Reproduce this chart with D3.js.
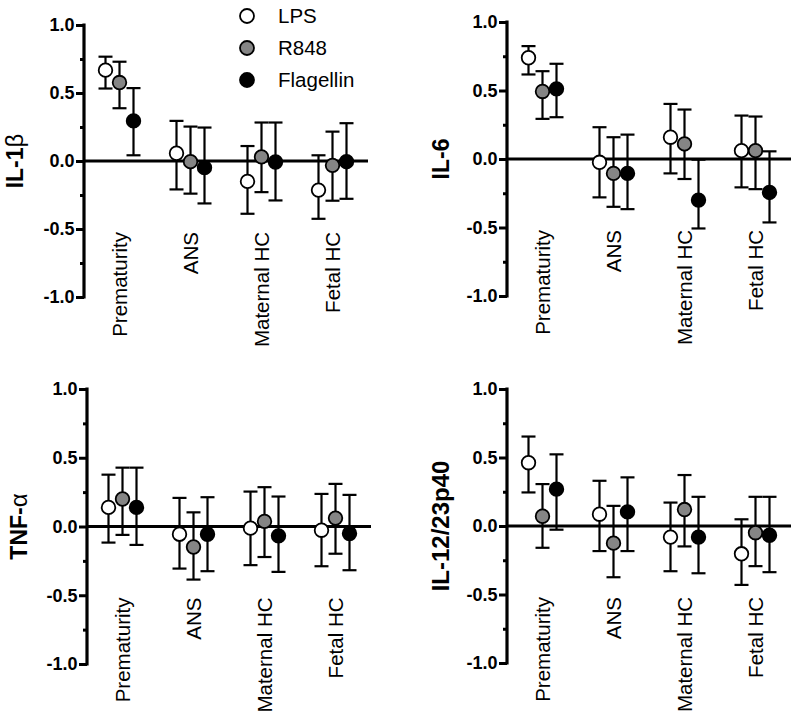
<!DOCTYPE html>
<html>
<head>
<meta charset="utf-8">
<script src="https://cdn.jsdelivr.net/npm/d3@7"></script>
<style>
  html, body { margin: 0; padding: 0; background: #fff; }
  svg { display: block; }
  text { font-family: "Liberation Sans", Arial, Helvetica, sans-serif; fill: #000; }
</style>
</head>
<body>
<svg id="chart" width="800" height="724"></svg>
<script>
// ---------------- DATA ----------------
const categories = ["Prematurity", "ANS", "Maternal HC", "Fetal HC"];
const seriesNames = ["LPS", "R848", "Flagellin"];
const seriesFill = ["#ffffff", "#858585", "#000000"];
const majorTicks = [-1.0, -0.5, 0.0, 0.5, 1.0];
const minorTicks = [-0.75, -0.25, 0.25, 0.75];

// rows: LPS, R848, Flagellin; columns: categories
const il1bMean = [[0.668, 0.057, -0.150, -0.214], [0.577, -0.005, 0.030, -0.032], [0.295, -0.049, -0.007, -0.005]];
const il1bLow  = [[0.533, -0.209, -0.388, -0.425], [0.388, -0.240, -0.229, -0.292], [0.042, -0.312, -0.290, -0.278]];
const il1bHigh = [[0.767, 0.295, 0.110, 0.042], [0.730, 0.253, 0.283, 0.216], [0.536, 0.246, 0.283, 0.278]];

const il6Mean = [[0.739, -0.024, 0.159, 0.061], [0.493, -0.105, 0.110, 0.061], [0.512, -0.105, -0.300, -0.244]];
const il6Low  = [[0.617, -0.280, -0.105, -0.207], [0.293, -0.349, -0.146, -0.220], [0.305, -0.366, -0.507, -0.463]];
const il6High = [[0.824, 0.232, 0.402, 0.317], [0.641, 0.159, 0.361, 0.310], [0.695, 0.178, -0.005, 0.056]];

const tnfMean = [[0.139, -0.056, -0.012, -0.027], [0.200, -0.149, 0.037, 0.061], [0.139, -0.056, -0.068, -0.051]];
const tnfLow  = [[-0.117, -0.306, -0.281, -0.289], [-0.061, -0.386, -0.222, -0.198], [-0.134, -0.325, -0.330, -0.318]];
const tnfHigh = [[0.377, 0.208, 0.254, 0.237], [0.428, 0.103, 0.286, 0.310], [0.428, 0.213, 0.218, 0.230]];

const il12Mean = [[0.462, 0.086, -0.081, -0.203], [0.071, -0.125, 0.120, -0.049], [0.269, 0.103, -0.081, -0.068]];
const il12Low  = [[0.245, -0.183, -0.330, -0.430], [-0.159, -0.374, -0.149, -0.293], [-0.027, -0.183, -0.345, -0.337]];
const il12High = [[0.653, 0.330, 0.171, 0.049], [0.306, 0.147, 0.372, 0.213], [0.523, 0.355, 0.213, 0.213]];

const panels = [
  { title: "IL-1", greek: "β", mean: il1bMean, low: il1bLow, high: il1bHigh, ax: 84, top: 25, bot: 297, tx: 23, fs: 23 },
  { title: "IL-6", greek: "", mean: il6Mean, low: il6Low, high: il6High, ax: 507, top: 22, bot: 296, tx: 449, fs: 23 },
  { title: "TNF-", greek: "α", mean: tnfMean, low: tnfLow, high: tnfHigh, ax: 87, top: 389, bot: 664, tx: 27, fs: 23 },
  { title: "IL-12/23p40", greek: "", mean: il12Mean, low: il12Low, high: il12High, ax: 507, top: 389, bot: 663, tx: 449, fs: 24 }
];

// ---------------- DRAW ----------------
const svg = d3.select("#chart");
const fmt = d3.format(".1f");
const plotWidth = 284;
const offsets = [-14, 0, 14];
const capHalf = 7;
const r = 6.8;

panels.forEach(p => {
  const g = svg.append("g");
  const y = d3.scaleLinear().domain([-1, 1]).range([p.bot, p.top]);
  const x = d3.scaleBand().domain(categories).range([p.ax, p.ax + plotWidth]);
  const y0 = y(0);

  // minor ticks
  const minorAxis = d3.axisLeft(y).tickValues(minorTicks).tickSize(4).tickFormat("").tickSizeOuter(0);
  const gm = g.append("g").attr("transform", `translate(${p.ax},0)`).call(minorAxis);
  gm.select(".domain").remove();
  gm.selectAll("line").attr("stroke", "#000").attr("stroke-width", 3);

  // major axis
  const majorAxis = d3.axisLeft(y).tickValues(majorTicks).tickSize(8).tickPadding(1.5)
    .tickSizeOuter(0).tickFormat(d => fmt(d).replace("−", "-"));
  const ga = g.append("g").attr("transform", `translate(${p.ax},0)`).call(majorAxis);
  ga.select(".domain").attr("stroke", "#000").attr("stroke-width", 3.2)
    .attr("d", `M0,${p.bot + 1.5}V${p.top - 1.5}`);
  ga.selectAll("line").attr("stroke", "#000").attr("stroke-width", 3);
  ga.selectAll("text").attr("font-size", 18).attr("font-weight", "bold")
    .style("font-family", '"Liberation Sans", Arial, sans-serif').attr("fill", "#000");

  // zero line (x axis)
  const xAxis = d3.axisBottom(x).tickSize(0).tickFormat("").tickSizeOuter(0);
  const gx = g.append("g").attr("transform", `translate(0,${y0})`).call(xAxis);
  gx.select(".domain").attr("stroke", "#000").attr("stroke-width", 3.2)
    .attr("d", `M${p.ax},0H${p.ax + plotWidth}`);

  // category labels
  g.selectAll("text.cat").data(categories).enter().append("text")
    .attr("class", "cat")
    .attr("transform", d => `translate(${x(d) + x.bandwidth() / 2},${y0 + 71}) rotate(-90)`)
    .attr("text-anchor", "end").attr("dy", "0.36em")
    .attr("font-size", 20.5)
    .text(d => d);

  // y-axis title
  const t = g.append("text")
    .attr("transform", `translate(${p.tx},${(p.top + p.bot) / 2}) rotate(-90)`)
    .attr("text-anchor", "middle").attr("font-size", p.fs).attr("font-weight", "bold");
  t.append("tspan").text(p.title);
  if (p.greek) t.append("tspan").attr("font-weight", "normal").attr("font-size", 24).text(p.greek);

  // series
  seriesNames.forEach((s, si) => {
    const rows = categories.map((c, ci) => ({
      cx: x(c) + x.bandwidth() / 2 + offsets[si],
      m: p.mean[si][ci], lo: p.low[si][ci], hi: p.high[si][ci]
    }));
    const eg = g.append("g").attr("stroke", "#000").attr("stroke-width", 2.2).attr("fill", "none");
    rows.forEach(d => {
      eg.append("line").attr("x1", d.cx).attr("x2", d.cx).attr("y1", y(d.lo)).attr("y2", y(d.hi));
      eg.append("line").attr("x1", d.cx - capHalf).attr("x2", d.cx + capHalf).attr("y1", y(d.lo)).attr("y2", y(d.lo));
      eg.append("line").attr("x1", d.cx - capHalf).attr("x2", d.cx + capHalf).attr("y1", y(d.hi)).attr("y2", y(d.hi));
    });
    g.append("g").selectAll("circle").data(rows).enter().append("circle")
      .attr("cx", d => d.cx).attr("cy", d => y(d.m)).attr("r", r)
      .attr("fill", seriesFill[si]).attr("stroke", "#000").attr("stroke-width", 1.8);
  });
});

// legend
const lg = svg.append("g");
seriesNames.forEach((s, i) => {
  const cy = 16 + i * 32;
  lg.append("circle").attr("cx", 247).attr("cy", cy).attr("r", 7)
    .attr("fill", seriesFill[i]).attr("stroke", "#000").attr("stroke-width", 1.8);
  lg.append("text").attr("x", 278).attr("y", cy).attr("dy", "0.36em")
    .attr("font-size", 20.5).text(s);
});
</script>
</body>
</html>
